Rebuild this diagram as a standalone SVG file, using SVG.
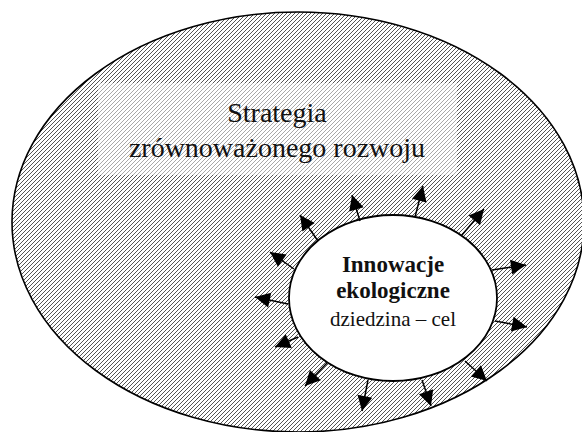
<svg xmlns="http://www.w3.org/2000/svg" width="582" height="432" viewBox="0 0 582 432">
  <defs>
    <pattern id="hatch" patternUnits="userSpaceOnUse" width="4" height="4">
      <rect width="4" height="4" fill="#fff"/>
      <path d="M-1,1 L1,-1 M0,4 L4,0 M3,5 L5,3" stroke="#555" stroke-width="1"/>
    </pattern>
    <pattern id="hatchLight" patternUnits="userSpaceOnUse" width="4" height="4">
      <rect width="4" height="4" fill="#fff"/>
      <path d="M-1,1 L1,-1 M0,4 L4,0 M3,5 L5,3" stroke="#a8a8a8" stroke-width="1"/>
    </pattern>
    <marker id="arrow" markerUnits="userSpaceOnUse" markerWidth="18" markerHeight="16" refX="15" refY="7.5" orient="auto" overflow="visible">
      <path d="M0,0 L15,7.5 L0,15 z" fill="#000" stroke="none"/>
    </marker>
    <style>
      .outer { fill: url(#hatch); stroke: #000; stroke-width: 1.6; }
      .inner { fill: #fff; stroke: #000; stroke-width: 1.8; }
      .box { fill: url(#hatchLight); stroke: none; }
      .conn line { stroke: #000; stroke-width: 1.5; }
      .t { text-anchor: middle; fill: #111; }
    </style>
  </defs>

  <g id="strategia">
    <ellipse class="outer" cx="298" cy="222" rx="286" ry="210"/>
    <rect class="box" x="98" y="83" width="359" height="92"/>
    <text class="t" x="277" y="122" font-family="'Liberation Serif', 'Times New Roman', serif" font-size="28">Strategia</text>
    <text class="t" x="277" y="157" font-family="'Liberation Serif', 'Times New Roman', serif" font-size="28">zrównoważonego rozwoju</text>
  </g>

  <g id="innowacje">
    <ellipse class="inner" cx="393" cy="298" rx="104" ry="83"/>
    <text class="t" x="393" y="272" font-family="'Liberation Serif', 'Times New Roman', serif" font-size="23" font-weight="bold">Innowacje</text>
    <text class="t" x="393" y="298" font-family="'Liberation Serif', 'Times New Roman', serif" font-size="23" font-weight="bold">ekologiczne</text>
    <text class="t" x="393" y="326" font-family="'Liberation Serif', 'Times New Roman', serif" font-size="21">dziedzina – cel</text>
  </g>

  <g id="connectors" class="conn">
    <line x1="360" y1="221" x2="352" y2="195" marker-end="url(#arrow)"/>
    <line x1="415" y1="217" x2="423" y2="186" marker-end="url(#arrow)"/>
    <line x1="462" y1="235" x2="484" y2="209" marker-end="url(#arrow)"/>
    <line x1="492" y1="270" x2="526" y2="265" marker-end="url(#arrow)"/>
    <line x1="495" y1="321" x2="527" y2="327" marker-end="url(#arrow)"/>
    <line x1="465" y1="361" x2="487" y2="381" marker-end="url(#arrow)"/>
    <line x1="422" y1="380" x2="431" y2="406" marker-end="url(#arrow)"/>
    <line x1="368" y1="380" x2="362" y2="411" marker-end="url(#arrow)"/>
    <line x1="327" y1="363" x2="305" y2="386" marker-end="url(#arrow)"/>
    <line x1="298" y1="337" x2="275" y2="347" marker-end="url(#arrow)"/>
    <line x1="288" y1="304" x2="255" y2="297" marker-end="url(#arrow)"/>
    <line x1="294" y1="269" x2="270" y2="252" marker-end="url(#arrow)"/>
    <line x1="318" y1="241" x2="300" y2="215" marker-end="url(#arrow)"/>
  </g>
</svg>
